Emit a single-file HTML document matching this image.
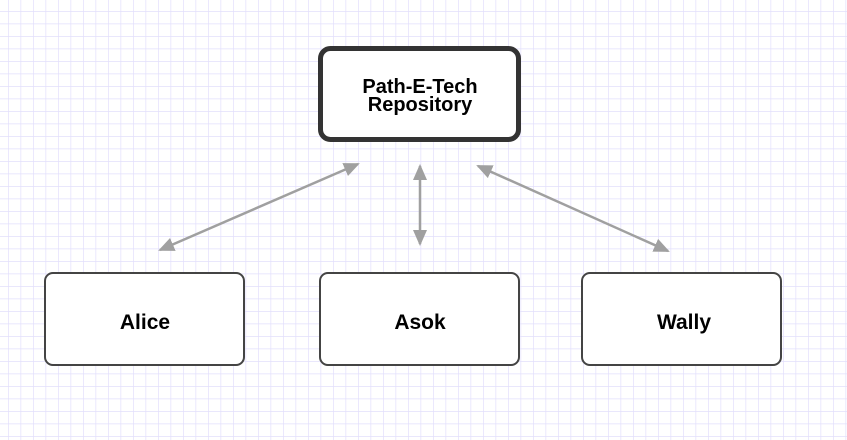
<html><body style="margin:0;width:847px;height:440px;overflow:hidden;background:#fff;font-family:'Liberation Sans',sans-serif">
<svg width="847" height="440" style="position:absolute;left:0;top:0">
<defs>
<pattern id="g" width="12.5" height="12.5" patternUnits="userSpaceOnUse" x="8" y="11">
<path d="M0 0H12.5M0 0V12.5" stroke="#e2dffc" stroke-width="1.4" fill="none"/>
</pattern>
<marker id="a" markerWidth="16" markerHeight="14" refX="14" refY="7" orient="auto-start-reverse" markerUnits="userSpaceOnUse" viewBox="0 0 16 14">
<path d="M0 0L16 7L0 14Z" fill="#a0a0a0"/>
</marker>
</defs>
<rect width="847" height="440" fill="url(#g)"/>
<g stroke="#a0a0a0" stroke-width="2.5" fill="none">
<line x1="160" y1="250" x2="358" y2="164" marker-start="url(#a)" marker-end="url(#a)"/>
<line x1="420" y1="166" x2="420" y2="244" marker-start="url(#a)" marker-end="url(#a)"/>
<line x1="478" y1="166" x2="668" y2="251" marker-start="url(#a)" marker-end="url(#a)"/>
</g>
<rect x="320.5" y="48.5" width="198" height="91" rx="10" fill="#fff" stroke="#333" stroke-width="5"/>
<rect x="45" y="273" width="199" height="92" rx="8" fill="#fff" stroke="#444" stroke-width="2"/>
<rect x="320" y="273" width="199" height="92" rx="8" fill="#fff" stroke="#444" stroke-width="2"/>
<rect x="582" y="273" width="199" height="92" rx="8" fill="#fff" stroke="#444" stroke-width="2"/>
<g font-family="Liberation Sans,sans-serif" font-weight="bold" fill="#000" text-anchor="middle">
<text x="420" y="93" font-size="20">Path-E-Tech</text>
<text x="420" y="111" font-size="20">Repository</text>
<text x="145" y="329" font-size="21">Alice</text>
<text x="420" y="329" font-size="21">Asok</text>
<text x="684" y="329" font-size="21">Wally</text>
</g>
</svg>
</body></html>
